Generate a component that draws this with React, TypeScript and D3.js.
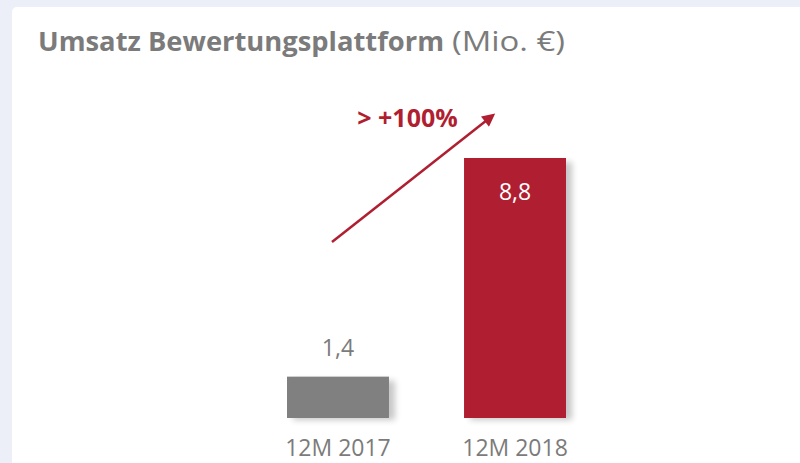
import React, { useRef, useEffect } from "react";
import * as d3 from "d3";

const categories = ["12M 2017", "12M 2018"];
const values = [1.4, 8.8];
const valueLabels = ["1,4", "8,8"];
const growthLabel = "> +100%";

const width = 800;
const height = 463;
const red = "#B01F31";
const gray = "#808080";
const textGray = "#7b7b7b";
const font = "'Open Sans', 'Noto Sans', sans-serif";

export default function App() {
  const svgRef = useRef<SVGSVGElement>(null);

  useEffect(() => {
    const svg = d3.select(svgRef.current);
    const chart = svg.select(".chart");

    const xScale = d3
      .scaleBand()
      .domain(categories)
      .range([287, 566])
      .paddingInner(0.424)
      .paddingOuter(0);

    const yScale = d3.scaleLinear().domain([0, 8.8]).range([418, 158]);

    const data = categories.map((c, i) => ({ c, v: values[i], label: valueLabels[i], i }));

    // shadows
    chart
      .selectAll(".shadow")
      .data(data)
      .join("rect")
      .attr("class", "shadow")
      .attr("x", (d) => xScale(d.c)! + 6)
      .attr("y", (d) => yScale(d.v) + 4)
      .attr("width", xScale.bandwidth())
      .attr("height", (d) => 418 - yScale(d.v) - 2)
      .attr("fill", "#000")
      .attr("opacity", 0.22)
      .attr("filter", "url(#blur)");

    // bars
    chart
      .selectAll(".bar")
      .data(data)
      .join("rect")
      .attr("class", "bar")
      .attr("x", (d) => xScale(d.c)!)
      .attr("y", (d) => yScale(d.v))
      .attr("width", xScale.bandwidth())
      .attr("height", (d) => 418 - yScale(d.v))
      .attr("fill", (d) => (d.i === 0 ? gray : red));

    // value labels
    chart
      .selectAll(".label")
      .data(data)
      .join("text")
      .attr("class", "label")
      .text((d) => d.label)
      .attr("x", (d) => xScale(d.c)! + xScale.bandwidth() / 2)
      .attr("y", (d) => (d.i === 0 ? yScale(d.v) - 21 : yScale(d.v) + 42))
      .attr("text-anchor", "middle")
      .attr("font-family", font)
      .attr("font-size", "23px")
      .attr("fill", (d) => (d.i === 0 ? textGray : "#fff"));

    // x axis labels
    const xAxis = d3.axisBottom(xScale).tickSize(0).tickPadding(22);
    const ax = svg
      .select<SVGGElement>(".x-axis")
      .attr("transform", "translate(0,418)")
      .call(xAxis);
    ax.select(".domain").remove();
    ax.selectAll("text")
      .attr("font-family", font)
      .attr("font-size", "23px")
      .attr("fill", textGray);

    // growth arrow
    const x0 = xScale(categories[0])! + xScale.bandwidth() / 2;
    const x1 = xScale(categories[1])! + xScale.bandwidth() / 2;
    chart
      .selectAll(".arrow")
      .data([0])
      .join("line")
      .attr("class", "arrow")
      .attr("x1", x0 - 6)
      .attr("y1", 242)
      .attr("x2", x1 - 28)
      .attr("y2", 120)
      .attr("stroke", red)
      .attr("stroke-width", 2.5)
      .attr("marker-end", "url(#arrowhead)");

    chart
      .selectAll(".growth")
      .data([growthLabel])
      .join("text")
      .attr("class", "growth")
      .text((d) => d)
      .attr("x", (x0 + x1) / 2 - 19)
      .attr("y", 127)
      .attr("text-anchor", "middle")
      .attr("font-family", font)
      .attr("font-weight", 700)
      .attr("font-size", "25px")
      .attr("fill", red);
  }, []);

  return (
    <svg
      ref={svgRef}
      width={width}
      height={height}
      style={{ position: "absolute", left: 0, top: 0 }}
    >
      <defs>
        <filter id="blur" x="-20%" y="-20%" width="140%" height="140%">
          <feGaussianBlur stdDeviation="3" />
        </filter>
        <marker
          id="arrowhead"
          viewBox="0 0 10 10"
          refX="2"
          refY="5"
          markerWidth="14"
          markerHeight="13"
          markerUnits="userSpaceOnUse"
          orient="auto"
        >
          <path d="M0,0 L10,5 L0,10 z" fill={red} />
        </marker>
      </defs>
      <rect x={0} y={0} width={width} height={height} fill="#ECEFF7" />
      <rect x={12} y={7} width={800} height={470} rx={5} fill="#fff" />
      <text y={51} fontFamily={font} fontSize="27px" fill={textGray}>
        <tspan x={38} fontWeight={700} textLength={406} lengthAdjust="spacingAndGlyphs">
          Umsatz Bewertungsplattform
        </tspan>
        <tspan x={452} textLength={113} lengthAdjust="spacingAndGlyphs">
          (Mio. €)
        </tspan>
      </text>
      <g className="chart" />
      <g className="x-axis" />
    </svg>
  );
}
